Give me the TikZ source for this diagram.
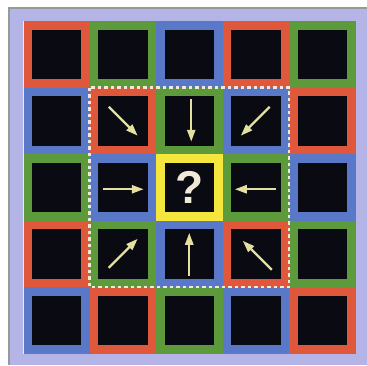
\documentclass[tikz,border=0pt]{standalone}
\usepackage{fontspec}
\newfontfamily\qfont{Liberation Sans}
\usetikzlibrary{arrows.meta}
\definecolor{cred}{HTML}{E0583C}
\definecolor{cgreen}{HTML}{5C9A3C}
\definecolor{cblue}{HTML}{5A78C8}
\definecolor{cyel}{HTML}{F4E63C}
\definecolor{cblack}{HTML}{0A0A12}
\definecolor{lav}{HTML}{B4B4E6}
\definecolor{arrcol}{HTML}{E4E0A0}
\definecolor{dashcol}{HTML}{F2E8D8}
\tikzset{
  cellbox/.style={minimum size=66.5pt, inner sep=0pt, outer sep=0pt},
  innerbox/.style={minimum size=49.5pt, inner sep=0pt, outer sep=0pt, fill=cblack},
  arr/.style={draw=arrcol, line width=2.4pt, -{Triangle[length=12pt,width=8pt]}},
}
\begin{document}
\begin{tikzpicture}[x=1pt,y=-1pt]
\useasboundingbox (0,0) rectangle (367,365);
\fill[white] (0,0) rectangle (367,365);
\fill[lav] (9,8) rectangle (367,365);
\draw[gray!80, line width=1.5pt] (9,365) -- (9,8) -- (367,8);
\foreach \r in {0,...,4}{\foreach \c in {0,...,4}{
  \pgfmathtruncatemacro\k{mod(\c-\r+6,3)}
  \ifnum\k=0 \def\cc{cred}\fi
  \ifnum\k=1 \def\cc{cgreen}\fi
  \ifnum\k=2 \def\cc{cblue}\fi
  \ifnum\r=2 \ifnum\c=2 \def\cc{cyel}\fi\fi
  \node[cellbox, fill=\cc] (c\r\c) at ({56.25+66.5*\c},{54.25+66.5*\r}) {};
  \node[innerbox] (i\r\c) at (c\r\c) {};
}}
\draw[white!70!lav, line width=1pt] (c00.north west) -- (c40.south west);
\draw[dashcol, line width=2.2pt, dash pattern=on 3.5pt off 3pt] (c11.north west) rectangle (c33.south east);
\draw[arr] (c11) ++(-14,-14) -- ++(29,29);
\draw[arr] (c12) ++(2,-22) -- ++(0,43);
\draw[arr] (c13) ++(14,-14) -- ++(-29,29);
\draw[arr] (c21) ++(-20,2) -- ++(41,0);
\draw[arr] (c23) ++(20,2) -- ++(-41,0);
\draw[arr] (c31) ++(-14,14) -- ++(29,-29);
\draw[arr] (c32) ++(0,22) -- ++(0,-43);
\draw[arr] (c33) ++(16,16) -- ++(-29,-29);
\node[text=dashcol, font=\qfont\bfseries\fontsize{46}{46}\selectfont, inner sep=0pt] (q) at (c22) {?};
\end{tikzpicture}
\end{document}
